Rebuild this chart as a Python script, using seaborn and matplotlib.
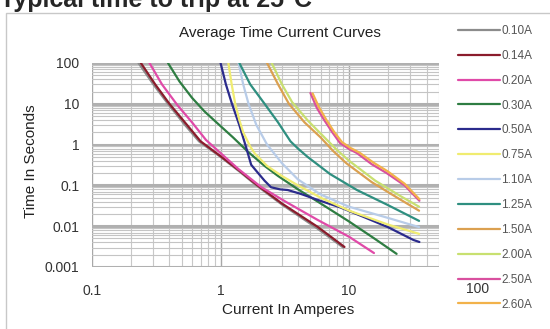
import matplotlib.pyplot as plt
import numpy as np
import pandas as pd
import seaborn as sns
from matplotlib.patches import Rectangle
from matplotlib.ticker import LogLocator, NullFormatter
from matplotlib.transforms import blended_transform_factory

# %%
# curves (current in A, time in s)

ratings = ["0.10A", "0.14A", "0.20A", "0.30A", "0.50A", "0.75A",
           "1.10A", "1.25A", "1.50A", "2.00A", "2.50A", "2.60A"]
colours = ["#8c8c8c", "#8b1c2c", "#e04aa8", "#2e7d42", "#2b2b8c", "#f0ec70",
           "#b8cce8", "#2f8f80", "#dba050", "#c8e070", "#d9509f", "#f2b24a"]

amps_010 = [0.23, 0.30, 0.39, 0.53, 0.68, 1.0, 1.4, 1.9, 3.0, 5.6, 9.0]
secs_010 = [100, 30, 10, 3, 1.2, 0.5, 0.22, 0.1, 0.034, 0.009, 0.003]
amps_014 = [0.24, 0.31, 0.40, 0.55, 0.70, 1.0, 1.4, 1.9, 3.0, 5.7, 9.2]
secs_014 = [100, 30, 10, 3, 1.2, 0.52, 0.23, 0.105, 0.036, 0.0096, 0.0031]
amps_020 = [0.28, 0.35, 0.46, 0.60, 0.77, 1.0, 1.38, 2.07, 3.2, 5.7, 10, 15.6]
secs_020 = [100, 30, 9.4, 3.5, 1.3, 0.62, 0.25, 0.091, 0.04, 0.0142, 0.0055, 0.0022]
amps_030 = [0.39, 0.48, 0.60, 0.75, 0.92, 1.25, 1.64, 2.2, 2.8, 4.0, 5.7, 10, 16, 23.4]
secs_030 = [100, 35, 14, 6.5, 3.6, 1.5, 0.66, 0.3, 0.17, 0.08, 0.04, 0.013, 0.0048, 0.0021]
amps_050 = [1.0, 1.1, 1.22, 1.4, 1.56, 1.73, 1.96, 2.2, 2.47, 2.9, 3.33, 4.2, 5.7, 8.5, 13, 20, 31.6, 35.2]
secs_050 = [100, 30, 10.5, 3, 0.98, 0.32, 0.2, 0.13, 0.09, 0.08, 0.077, 0.062, 0.044, 0.029, 0.0168, 0.0095, 0.0046, 0.0041]
amps_075 = [1.15, 1.22, 1.3, 1.4, 1.5, 1.7, 1.85, 2.3, 3.0, 4.0, 6.0, 10, 20, 35]
secs_075 = [100, 30, 10, 4, 2, 0.9, 0.6, 0.3, 0.17, 0.1, 0.05, 0.024, 0.011, 0.0065]
amps_110 = [1.38, 1.5, 1.65, 1.9, 2.3, 3.0, 4.0, 6.0, 10, 20, 35]
secs_110 = [100, 30, 10, 3, 1.0, 0.35, 0.14, 0.06, 0.03, 0.016, 0.0095]
amps_125 = [1.4, 1.7, 2.2, 2.8, 3.5, 4.0, 4.75, 7.1, 11.5, 20, 35]
secs_125 = [100, 30, 10, 3.5, 1.2, 0.8, 0.5, 0.19, 0.077, 0.033, 0.0135]
amps_150 = [2.3, 2.8, 3.4, 4.5, 6.0, 7.5, 9.5, 15, 25, 35]
secs_150 = [100, 30, 10, 3.5, 1.5, 0.7, 0.35, 0.12, 0.045, 0.024]
amps_200 = [2.5, 3.0, 3.6, 4.8, 6.3, 8.0, 10, 16, 25, 35]
secs_200 = [100, 30, 11, 3.8, 1.6, 0.75, 0.4, 0.13, 0.055, 0.03]
amps_250 = [5.0, 5.6, 6.4, 7.4, 8.5, 10, 11.5, 15, 19.6, 27, 35.2]
secs_250 = [18.4, 8, 4.0, 2.0, 1.09, 0.78, 0.62, 0.33, 0.2, 0.1, 0.042]
amps_260 = [5.2, 5.8, 6.6, 7.6, 8.8, 10.3, 12, 15.5, 20, 27, 35.2]
secs_260 = [18, 8.5, 4.2, 2.1, 1.15, 0.82, 0.64, 0.36, 0.22, 0.11, 0.046]

amps = [amps_010, amps_014, amps_020, amps_030, amps_050, amps_075,
        amps_110, amps_125, amps_150, amps_200, amps_250, amps_260]
secs = [secs_010, secs_014, secs_020, secs_030, secs_050, secs_075,
        secs_110, secs_125, secs_150, secs_200, secs_250, secs_260]

y_ticks = [0.001, 0.01, 0.1, 1, 10, 100]
y_labels = ["0.001", "0.01", "0.1", "1", "10", "100"]
x_ticks = [0.1, 1, 10]
x_labels = ["0.1", "1", "10"]

df = pd.concat(
    [pd.DataFrame({"amps": a, "secs": s, "rating": r}) for a, s, r in zip(amps, secs, ratings)],
    ignore_index=True,
)

# %%
sns.set_theme(style="white")
plt.rcParams["font.family"] = ["Liberation Sans", "DejaVu Sans"]

W, H = 550, 329
fig = plt.figure(figsize=(W / 100, H / 100), dpi=100)
ax = fig.add_axes([92 / W, 1 - 267 / H, (439 - 92) / W, (267 - 63) / H])
ax.set_xscale("log")
ax.set_yscale("log")

sns.lineplot(
    data=df, x="amps", y="secs", hue="rating", palette=dict(zip(ratings, colours)),
    estimator=None, sort=False, lw=1.6, legend=False, ax=ax,
)

ax.set_xlim(0.1, 50)
ax.set_ylim(0.001, 100)
ax.set_yticks(y_ticks, labels=y_labels)
ax.set_xticks(x_ticks, labels=x_labels)
for axis in [ax.xaxis, ax.yaxis]:
    axis.set_minor_locator(LogLocator(base=10, subs=np.arange(2, 10), numticks=100))
    axis.set_minor_formatter(NullFormatter())
ax.tick_params(which="both", length=0, labelsize=10, labelcolor="#333333")
ax.tick_params(axis="x", pad=12)
ax.tick_params(axis="y", pad=9)
ax.set_xlabel("")
ax.set_ylabel("")

ax.set_axisbelow(True)
ax.yaxis.grid(True, which="major", color="#b0b0b0", lw=2.2)
ax.yaxis.grid(True, which="minor", color="#c4c4c4", lw=0.8)
ax.xaxis.grid(True, which="major", color="#a8a8a8", lw=1.0)
ax.xaxis.grid(True, which="minor", color="#c8c8c8", lw=0.8)
for sp in ax.spines.values():
    sp.set_visible(False)

# stray 100 tick label sitting under the legend
trans = blended_transform_factory(ax.transData, ax.transAxes)
ax.text(100, (267 - 289) / 204, "100", transform=trans, ha="center", va="center",
        fontsize=10, color="#333333", clip_on=False, zorder=10)

leg = ax.legend(
    ax.get_lines(), ratings, loc="upper left",
    bbox_to_anchor=(458 / W, 1 - 25 / H), bbox_transform=fig.transFigure,
    frameon=False, fontsize=8.5, handlelength=3.55, handletextpad=0.1,
    labelspacing=1.09, borderpad=0, borderaxespad=0,
)
for t in leg.get_texts():
    t.set_color("#555555")

# texts
fig.text(0, 1 - 7 / H, "Typical time to trip at 25°C", fontsize=18,
         fontweight="bold", ha="left", va="baseline")
fig.text(280 / W, 1 - 33 / H, "Average Time Current Curves", fontsize=11,
         ha="center", va="center", color="#222222")
fig.text(288 / W, 1 - 310 / H, "Current In Amperes", fontsize=11,
         ha="center", va="center", color="#222222")
fig.text(31 / W, 1 - 161 / H, "Time In Seconds", fontsize=11, rotation=90,
         ha="center", va="center", color="#222222")

fig.add_artist(Rectangle((6 / W, -0.05), 1.2, 1 - 13 / H + 0.05, transform=fig.transFigure,
                         fill=False, ec="#c8c8c8", lw=1))

fig.savefig("out.png", dpi=100)
